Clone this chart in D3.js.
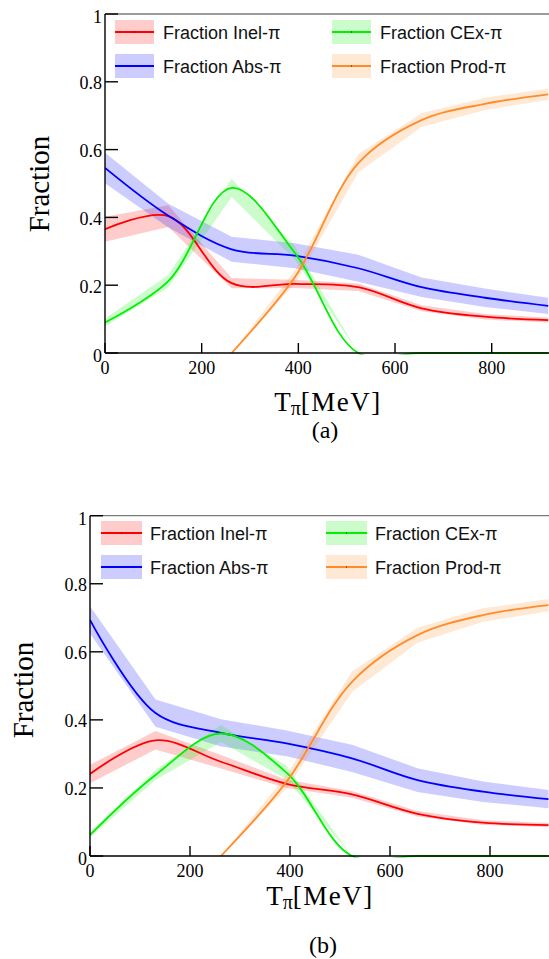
<!DOCTYPE html>
<html>
<head>
<meta charset="utf-8">
<script src="https://cdn.jsdelivr.net/npm/d3@7"></script>
<style>
  html, body { margin: 0; padding: 0; background: #fff; }
  svg { display: block; }
</style>
</head>
<body>
<svg id="chart" width="549" height="959"></svg>
<script>
// Pion kinetic energy grid [MeV]
const energies = [0, 131, 262, 393, 524, 655, 786, 917];

// Panel (a): fraction of each interaction channel and its band half-width
const inelA    = [0.365, 0.404, 0.206, 0.204, 0.194, 0.132, 0.107, 0.097];
const inelErrA = [0.037, 0.032, 0.015, 0.012, 0.011, 0.009, 0.008, 0.007];
const absA     = [0.546, 0.405, 0.306, 0.287, 0.250, 0.194, 0.163, 0.139];
const absErrA  = [0.045, 0.035, 0.037, 0.037, 0.040, 0.029, 0.027, 0.024];
const cexA     = [0.090, 0.212, 0.487, 0.295, 0, 0, 0, 0];
const cexErrA  = [0.012, 0.018, 0.027, 0.020, 0, 0, 0, 0];
const prodA    = [null, null, 0, 0.224, 0.560, 0.687, 0.735, 0.763];
const prodErrA = [null, null, 0, 0.020, 0.027, 0.020, 0.018, 0.017];

// Panel (b)
const inelB    = [0.241, 0.340, 0.277, 0.212, 0.181, 0.124, 0.098, 0.091];
const inelErrB = [0.027, 0.027, 0.020, 0.012, 0.010, 0.008, 0.007, 0.006];
const absB     = [0.694, 0.420, 0.362, 0.331, 0.287, 0.223, 0.189, 0.167];
const absErrB  = [0.040, 0.040, 0.040, 0.038, 0.040, 0.035, 0.030, 0.027];
const cexB     = [0.062, 0.238, 0.360, 0.245, 0, 0, 0, 0];
const cexErrB  = [0.008, 0.015, 0.025, 0.020, 0, 0, 0, 0];
const prodB    = [null, null, 0, 0.218, 0.512, 0.649, 0.708, 0.737];
const prodErrB = [null, null, 0, 0.020, 0.030, 0.022, 0.020, 0.018];

// Axis ticks and labels
const xTicks = [0, 200, 400, 600, 800];
const yTicks = [0, 0.2, 0.4, 0.6, 0.8, 1];
const yTickLabels = ["0", "0.2", "0.4", "0.6", "0.8", "1"];

// Legend entries (two columns, two rows)
const legendNames = ["Fraction Inel-π", "Fraction CEx-π", "Fraction Abs-π", "Fraction Prod-π"];
const seriesColors = ["#ff0000", "#00f000", "#0000ff", "#ff8c2a"];

const svg = d3.select("#chart");
const W = 549;
const serif = "'Liberation Serif', 'Times New Roman', serif";
const sans = "'Liberation Sans', Arial, sans-serif";

function drawPanel(cfg) {
  const x = d3.scaleLinear().domain([0, 920]).range([cfg.x0, cfg.x920]);
  const y = d3.scaleLinear().domain([0, 1]).range([cfg.y0, cfg.y1]);
  const g = svg.append("g");

  const clipId = "clip-" + cfg.tag;
  g.append("clipPath").attr("id", clipId)
    .append("rect")
    .attr("x", x(0)).attr("y", y(1))
    .attr("width", W - x(0)).attr("height", y(0) - y(1) + 1.5);

  // series in drawing order: Inel, Abs, CEx, Prod
  const series = [
    { v: cfg.inel, e: cfg.inelErr, c: seriesColors[0] },
    { v: cfg.abs,  e: cfg.absErr,  c: seriesColors[2] },
    { v: cfg.cex,  e: cfg.cexErr,  c: seriesColors[1] },
    { v: cfg.prod, e: cfg.prodErr, c: seriesColors[3] }
  ];
  const rows = s => energies.map((E, i) => ({ E, v: s.v[i], e: s.e[i] }));

  const plot = g.append("g").attr("clip-path", `url(#${clipId})`);

  const band = d3.area()
    .defined(d => d.v != null)
    .x(d => x(d.E))
    .y0(d => y(d.v - d.e))
    .y1(d => y(d.v + d.e));
  series.forEach(s => {
    plot.append("path").datum(rows(s))
      .attr("d", band)
      .attr("fill", s.c).attr("fill-opacity", 0.2).attr("stroke", "none");
  });

  // axis lines and frame
  g.append("line").attr("x1", x(0)).attr("x2", W).attr("y1", y(1)).attr("y2", y(1))
    .attr("stroke", "#7a7a7a").attr("stroke-width", 1.3);
  g.append("line").attr("x1", x(0)).attr("x2", W).attr("y1", y(0)).attr("y2", y(0))
    .attr("stroke", "#000").attr("stroke-width", 1.4);
  g.append("line").attr("x1", x(0)).attr("x2", x(0)).attr("y1", y(0)).attr("y2", y(1))
    .attr("stroke", "#000").attr("stroke-width", 1.4);

  yTicks.forEach((t, i) => {
    g.append("line").attr("x1", x(0)).attr("x2", x(0) + 13)
      .attr("y1", y(t)).attr("y2", y(t))
      .attr("stroke", "#000").attr("stroke-width", 1.4);
    const end = (t === 0 || t === 1);
    g.append("text").attr("x", x(0) - 3).attr("y", y(t) + (end ? 9 : 7.5))
      .attr("text-anchor", "end").attr("font-family", serif).attr("font-size", 18)
      .text(yTickLabels[i]);
  });
  xTicks.forEach(t => {
    g.append("line").attr("x1", x(t)).attr("x2", x(t))
      .attr("y1", y(0)).attr("y2", y(0) - 10)
      .attr("stroke", "#000").attr("stroke-width", 1.4);
    g.append("text").attr("x", x(t)).attr("y", y(0) + 20.5)
      .attr("text-anchor", "middle").attr("font-family", serif).attr("font-size", 18)
      .text(t);
  });

  const line = d3.line()
    .defined(d => d.v != null)
    .curve(d3.curveCatmullRom)
    .x(d => x(d.E))
    .y(d => y(d.v));
  series.forEach(s => {
    plot.append("path").datum(rows(s))
      .attr("d", line)
      .attr("fill", "none").attr("stroke", s.c).attr("stroke-width", 1.8);
  });

  // legend
  legendNames.forEach((name, i) => {
    const col = i % 2, row = Math.floor(i / 2);
    const sx = cfg.legX[col], sy = cfg.legY + row * 34;
    const c = seriesColors[i];
    g.append("rect").attr("x", sx).attr("y", sy).attr("width", cfg.swW).attr("height", 24)
      .attr("fill", c).attr("fill-opacity", 0.2);
    g.append("line").attr("x1", sx).attr("x2", sx + cfg.swW)
      .attr("y1", sy + 12).attr("y2", sy + 12)
      .attr("stroke", c).attr("stroke-width", 1.8);
    g.append("rect").attr("x", sx + cfg.swW / 2 - 0.5).attr("y", sy + 11.5)
      .attr("width", 1).attr("height", 1).attr("fill", "#222");
    g.append("text").attr("x", sx + cfg.textGap).attr("y", sy + 19.3)
      .attr("font-family", sans).attr("font-size", 18).attr("fill", "#111")
      .text(name);
  });

  // axis titles
  g.append("text")
    .attr("transform", `translate(${cfg.yTitleX},${cfg.yTitleY}) rotate(-90)`)
    .attr("text-anchor", "middle").attr("font-family", serif).attr("font-size", 29)
    .text("Fraction");

  const xt = g.append("text").attr("x", cfg.xTitleX).attr("y", cfg.xTitleY)
    .attr("text-anchor", "middle").attr("font-family", serif).attr("font-size", 27);
  xt.append("tspan").text("T");
  xt.append("tspan").attr("font-size", 20).attr("dy", 4).text("π");
  xt.append("tspan").attr("dy", -4).attr("letter-spacing", 1.5).text("[MeV]");

  g.append("text").attr("x", cfg.capX).attr("y", cfg.capY)
    .attr("text-anchor", "middle").attr("font-family", serif).attr("font-size", 24)
    .text(cfg.caption);
}

drawPanel({
  tag: "a", x0: 105, x920: 549.7, y0: 353, y1: 14,
  inel: inelA, inelErr: inelErrA, abs: absA, absErr: absErrA,
  cex: cexA, cexErr: cexErrA, prod: prodA, prodErr: prodErrA,
  legX: [115, 332], legY: 20, swW: 39, textGap: 48,
  yTitleX: 49, yTitleY: 184, xTitleX: 328, xTitleY: 410.5,
  capX: 325, capY: 438, caption: "(a)"
});

drawPanel({
  tag: "b", x0: 90, x920: 550, y0: 856, y1: 515.7,
  inel: inelB, inelErr: inelErrB, abs: absB, absErr: absErrB,
  cex: cexB, cexErr: cexErrB, prod: prodB, prodErr: prodErrB,
  legX: [101, 326], legY: 521, swW: 41, textGap: 49,
  yTitleX: 33, yTitleY: 690, xTitleX: 320, xTitleY: 905,
  capX: 323, capY: 953, caption: "(b)"
});
</script>
</body>
</html>
